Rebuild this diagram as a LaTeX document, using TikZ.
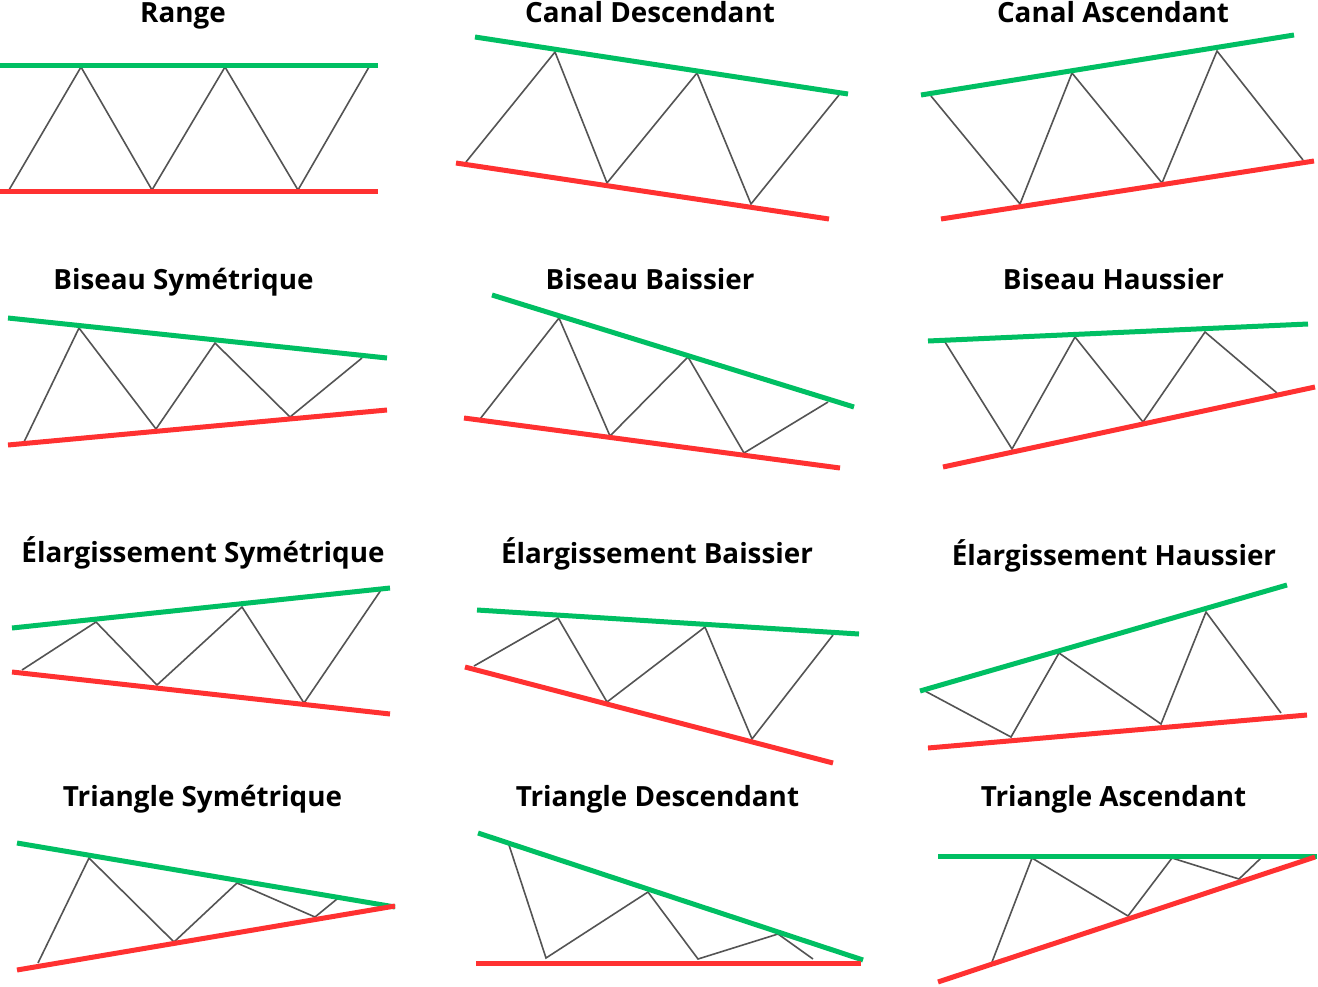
\documentclass[tikz,border=0pt]{standalone}
\usepackage{fontspec}
\setmainfont{Open Sans}
\definecolor{resgreen}{HTML}{00BF63}
\definecolor{supred}{HTML}{FF3131}
\definecolor{pricegray}{HTML}{545454}
\tikzset{
  resline/.style={draw=resgreen, line width=5pt},
  supline/.style={draw=supred, line width=5pt},
  price/.style={draw=pricegray, line width=1.6pt, line join=miter},
  ttl/.style={anchor=base, inner sep=0pt, font=\bfseries\fontsize{27.8}{32}\selectfont}
}
\begin{document}
\begin{tikzpicture}[x=1pt,y=-1pt]
\useasboundingbox[fill=white] (0,0) rectangle (1318,986);

% ---- Row 1 ----
\node[ttl] (t1) at (183,22.5) {Range};
\draw[price] (9,190) -- (81,67) -- (152,190) -- (225,67) -- (298,190) -- (369,67);
\draw[resline] (0,65) -- (378,65);
\draw[supline] (0,191) -- (378,191);

\node[ttl] (t2) at (650,22.5) {Canal Descendant};
\draw[price] (466,162) -- (555,52) -- (607,183) -- (697,73) -- (751,204) -- (839,95);
\draw[resline] (475,37) -- (848,94);
\draw[supline] (456,163) -- (829,219);

\node[ttl] (t3) at (1113,22.5) {Canal Ascendant};
\draw[price] (931,96) -- (1020,204) -- (1072,73) -- (1162,183) -- (1217,51) -- (1303,160);
\draw[resline] (921,95) -- (1294,35);
\draw[supline] (941,219) -- (1314,161);

% ---- Row 2 ----
\node[ttl] (t4) at (183.5,289.3) {Biseau Symétrique};
\draw[price] (24,442) -- (79,328) -- (156,429) -- (215,343) -- (290,417) -- (362,358);
\draw[resline] (8,318) -- (387,358);
\draw[supline] (8,445) -- (387,410);

\node[ttl] (t5) at (650,289.3) {Biseau Baissier};
\draw[price] (480,419) -- (559,318) -- (610,436) -- (688,357) -- (744,453) -- (828,402);
\draw[resline] (492,295) -- (854,407);
\draw[supline] (464,418) -- (840,468);

\node[ttl] (t6) at (1113.5,289.3) {Biseau Haussier};
\draw[price] (945,342) -- (1012,449) -- (1075,337) -- (1143,422) -- (1205,332) -- (1277,393);
\draw[resline] (928,341) -- (1308,324);
\draw[supline] (943,467) -- (1315,387);

% ---- Row 3 ----
\node[ttl] (t7) at (203,562.7) {Élargissement Symétrique};
\draw[price] (22,670) -- (96,622) -- (157,685) -- (242,607) -- (304,703) -- (381,590);
\draw[resline] (12,628) -- (390,588);
\draw[supline] (12,672) -- (390,714);

\node[ttl] (t8) at (657,563) {Élargissement Baissier};
\draw[price] (474,666) -- (558,618) -- (607,702) -- (705,627) -- (752,739) -- (833,635);
\draw[resline] (477,610) -- (859,634);
\draw[supline] (465,667) -- (833,763);

\node[ttl] (t9) at (1114,565) {Élargissement Haussier};
\draw[price] (925,691) -- (1011,737) -- (1059,653) -- (1161,724) -- (1206,612) -- (1281,713);
\draw[resline] (920,691) -- (1287,585);
\draw[supline] (928,748) -- (1307,715);

% ---- Row 4 ----
\node[ttl] (t10) at (202.5,806.7) {Triangle Symétrique};
\draw[price] (38,963) -- (89,858) -- (174,942) -- (237,883) -- (315,917) -- (337,899);
\draw[resline] (17,843) -- (395,907);
\draw[supline] (17,970) -- (395,906);

\node[ttl] (t11) at (657.5,806.5) {Triangle Descendant};
\draw[price] (509,845) -- (546,958) -- (648,892) -- (698,959) -- (778,934) -- (813,959);
\draw[resline] (478,833) -- (863,960);
\draw[supline] (476,963) -- (861,963);

\node[ttl] (t12) at (1113.5,806.7) {Triangle Ascendant};
\draw[price] (992,962) -- (1032,858) -- (1128,916) -- (1172,858) -- (1239,879) -- (1261,858);
\draw[resline] (938,856) -- (1317,856);
\draw[supline] (938,982) -- (1315,857);
\end{tikzpicture}
\end{document}
